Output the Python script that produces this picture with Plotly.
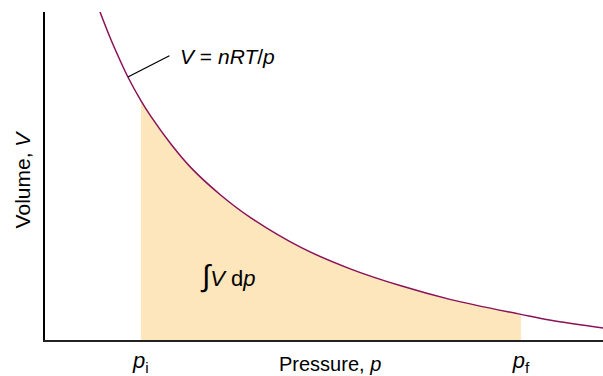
import plotly.graph_objects as go

# values (pressure, volume in arbitrary units)
pressure = [1.48, 1.6, 1.7, 1.77, 1.9, 2.0, 2.2, 2.4, 2.7, 3.0, 3.5, 4.0, 4.5, 5.0, 5.7, 6.0, 6.53]
volume = [4.19, 3.88, 3.65, 3.50, 3.26, 3.10, 2.82, 2.58, 2.30, 2.07, 1.77, 1.55, 1.38, 1.24, 1.09, 1.03, 0.95]

p_i = 1.9
p_f = 5.7
tick_vals = [p_i, p_f]
tick_text = ['<i>p</i><sub>i</sub>', '<i>p</i><sub>f</sub>']

# part of the curve between p_i and p_f, for the shaded work area
shade_p = [p for p in pressure if p_i <= p <= p_f]
shade_v = [v for p, v in zip(pressure, volume) if p_i <= p <= p_f]

fig = go.Figure()

fig.add_trace(go.Scatter(
    x=shade_p, y=shade_v,
    mode='lines',
    line=dict(width=0, shape='spline'),
    fill='tozeroy',
    fillcolor='#FDE6BB',
    hoverinfo='skip'
))

fig.add_trace(go.Scatter(
    x=pressure, y=volume,
    mode='lines',
    line=dict(color='#8A1258', width=1.5, shape='spline')
))

# label for the isotherm, with its leader line
fig.add_annotation(
    x=1.77, y=3.50, text='', showarrow=True,
    arrowhead=0, arrowwidth=1.3, arrowcolor='black',
    ax=43, ay=-22, standoff=0
)
fig.add_annotation(
    x=0.238, y=0.865, xref='paper', yref='paper', text='<i>V</i> = <i>nRT</i>/<i>p</i>',
    showarrow=False, xanchor='left', yanchor='middle',
    font=dict(size=21, color='black')
)
fig.add_annotation(
    x=2.77, y=1.48,
    text='<span style="font-size:30px">\u222b</span><i>V</i> d<i>p</i>',
    showarrow=False, font=dict(size=22, color='black')
)

fig.update_layout(
    width=603, height=376,
    margin=dict(l=45, r=0, t=12, b=31),
    paper_bgcolor='white', plot_bgcolor='white',
    showlegend=False,
    font=dict(family='Liberation Sans, Arial, sans-serif', color='black'),
    xaxis=dict(
        range=[0.941, 6.521], showgrid=False, zeroline=False,
        showline=True, linecolor='#222', linewidth=2,
        tickvals=tick_vals, ticktext=tick_text, ticks='',
        tickfont=dict(size=22)
    ),
    yaxis=dict(
        range=[0.83, 4.16], showgrid=False, zeroline=False,
        showline=True, linecolor='black', linewidth=1.5,
        showticklabels=False, ticks=''
    ),
)

# axis titles
fig.add_annotation(
    x=0.51, y=-0.072, xref='paper', yref='paper', yanchor='middle',
    text='Pressure, <i>p</i>', showarrow=False, font=dict(size=20)
)
fig.add_annotation(
    x=-0.041, y=0.49, xref='paper', yref='paper', xanchor='center',
    text='Volume, <i>V</i>', textangle=-90, showarrow=False, font=dict(size=21)
)

fig.write_html('out.html', config={'displayModeBar': False},
               post_script="document.body.style.margin='0';")
